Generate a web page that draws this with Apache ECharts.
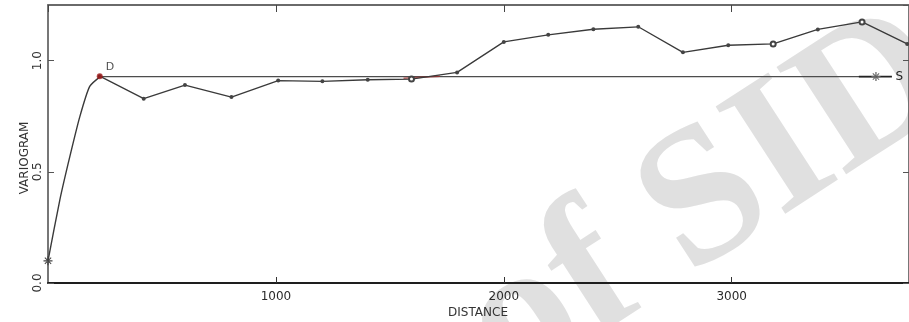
<!DOCTYPE html>
<html>
<head>
<meta charset="utf-8">
<script src="https://cdn.jsdelivr.net/npm/echarts@6/dist/echarts.min.js"></script>
<style>
  html, body { margin: 0; padding: 0; background: #fff; }
  #chart { width: 909px; height: 322px; }
</style>
</head>
<body>
<div id="chart"></div>
<script>
// Experimental variogram (lag distance, gamma)
const lagDistance = [227, 420, 601, 805, 1010, 1204, 1403, 1595, 1795, 2000, 2195, 2393, 2590, 2786, 2985, 3182, 3378, 3572, 3770];
const lagGamma    = [0.930, 0.829, 0.890, 0.836, 0.910, 0.907, 0.914, 0.917, 0.947, 1.084, 1.116, 1.141, 1.152, 1.037, 1.069, 1.075, 1.140, 1.174, 1.075];
// Lags drawn with an open ring instead of a dot
const openLags = [1595, 3182, 3572];

// Fitted model curve from the nugget up to the range
const modelDistance = [0, 52, 96, 140, 183, 229];
const modelGamma    = [0.100, 0.374, 0.569, 0.749, 0.884, 0.928];

// Sill line, from the range point D to the marker S
const sillDistance = [229, 3633];
const sillGamma    = [0.928, 0.928];

// Axis ticks
const xTicks = [0, 1000, 2000, 3000];
const yTicks = [0.0, 0.5, 1.0];

const pairs = (xs, ys) => xs.map((x, i) => [x, ys[i]]);

const asterisk = 'path://M-0.7,-5H0.7V5H-0.7Z M-5,-0.7H5V0.7H-5Z M-3.9,-3.1L-3.1,-3.9L3.9,3.1L3.1,3.9Z M-3.9,3.1L-3.1,3.9L3.9,-3.1L3.1,-3.9Z';

const chart = echarts.init(document.getElementById('chart'), null, { renderer: 'canvas' });

const xMax = 3778;
const yMax = 1.25;
const labelFont = '"DejaVu Sans", sans-serif';

const isOpen = d => openLags.indexOf(d) >= 0;

chart.setOption({
  animation: false,
  backgroundColor: '#ffffff',
  grid: { left: 48, right: -3, top: 5, bottom: 39 },
  xAxis: [
    {
      type: 'value', min: 0, max: xMax, interval: 1000, position: 'bottom',
      axisLine: { show: true, onZero: false, lineStyle: { color: '#1e1e1e', width: 2 } },
      axisTick: { show: true, inside: true, length: 6, lineStyle: { color: '#333', width: 1 } },
      axisLabel: {
        show: true, margin: 8, color: '#2a2a2a', fontSize: 12, fontFamily: labelFont,
        showMaxLabel: false, showMinLabel: false,
        formatter: v => (xTicks.indexOf(v) >= 0 ? String(v) : '')
      },
      splitLine: { show: false }
    },
    {
      type: 'value', min: 0, max: xMax, interval: 1000, position: 'top',
      axisLine: { show: true, onZero: false, lineStyle: { color: '#6a6a6a', width: 2 } },
      axisTick: { show: true, inside: true, length: 7, lineStyle: { color: '#444', width: 1 } },
      axisLabel: { show: false },
      splitLine: { show: false }
    }
  ],
  yAxis: [
    {
      type: 'value', min: 0, max: yMax, interval: 0.5, position: 'left',
      axisLine: { show: true, onZero: false, lineStyle: { color: '#4a4a4a', width: 1.5 } },
      axisTick: { show: true, inside: true, length: 6, lineStyle: { color: '#555', width: 1 } },
      axisLabel: {
        show: true, rotate: 90, margin: 4, color: '#333', fontSize: 12, fontFamily: labelFont,
        showMaxLabel: false,
        formatter: v => (yTicks.some(t => Math.abs(t - v) < 1e-9) ? v.toFixed(1) : '')
      },
      splitLine: { show: false }
    },
    {
      type: 'value', min: 0, max: yMax, interval: 0.5, position: 'right',
      axisLine: { show: true, onZero: false, lineStyle: { color: '#4a4a4a', width: 1.5 } },
      axisTick: { show: true, inside: true, length: 6, lineStyle: { color: '#555', width: 1 } },
      axisLabel: { show: false },
      splitLine: { show: false }
    }
  ],
  graphic: [
    {
      type: 'text', z: -10, silent: true,
      x: 934, y: 57, rotation: 33 * Math.PI / 180,
      style: {
        text: 'Archive of SID',
        font: 'bold 195px "Liberation Serif", serif',
        fill: '#e0e0e0',
        textAlign: 'right', textVerticalAlign: 'middle'
      }
    },
    {
      type: 'text', z: 10, x: 25, y: 158, rotation: Math.PI / 2,
      style: {
        text: 'VARIOGRAM', font: '12px ' + labelFont, fill: '#333',
        textAlign: 'center', textVerticalAlign: 'middle'
      }
    },
    {
      type: 'text', z: 10, x: 478, y: 313,
      style: {
        text: 'DISTANCE', font: '12px ' + labelFont, fill: '#333',
        textAlign: 'center', textVerticalAlign: 'middle'
      }
    }
  ],
  series: [
    {
      name: 'sill', type: 'line', z: 3, clip: true,
      data: pairs(sillDistance, sillGamma),
      showSymbol: false, symbol: 'none',
      lineStyle: { color: '#4d4d4d', width: 1.3 }
    },
    {
      name: 'sill marker', type: 'line', z: 4, clip: true,
      data: [[sillDistance[1] - 75, sillGamma[1]], [sillDistance[1], sillGamma[1]], [sillDistance[1] + 70, sillGamma[1]]],
      showAllSymbol: true,
      symbol: (v, p) => (p.dataIndex === 1 ? asterisk : 'none'),
      symbolSize: 9,
      itemStyle: { color: '#666' },
      lineStyle: { color: '#222', width: 1.8 },
      label: {
        show: true, position: 'right', distance: 15, color: '#222', fontSize: 12, fontFamily: labelFont,
        formatter: p => (p.dataIndex === 1 ? 'S' : '')
      }
    },
    {
      name: 'crossing', type: 'line', z: 4, clip: true,
      data: [[1560, 0.921], [1720, 0.930]],
      showSymbol: false, symbol: 'none',
      lineStyle: { color: 'rgba(165,45,45,0.75)', width: 1.5 }
    },
    {
      name: 'model', type: 'line', z: 5, clip: true,
      data: pairs(modelDistance, modelGamma),
      smooth: 0.2,
      symbol: (v, p) => (p.dataIndex === 0 ? asterisk : 'none'),
      symbolSize: 9,
      itemStyle: { color: '#444' },
      lineStyle: { color: '#3a3a3a', width: 1.4 }
    },
    {
      name: 'experimental', type: 'line', z: 6, clip: true,
      data: pairs(lagDistance, lagGamma),
      showAllSymbol: true,
      symbol: v => (isOpen(v[0]) ? 'emptyCircle' : 'circle'),
      symbolSize: v => (isOpen(v[0]) ? 5 : 4),
      itemStyle: { color: '#444', borderWidth: 1 },
      lineStyle: { color: '#3a3a3a', width: 1.3 }
    },
    {
      name: 'range', type: 'scatter', z: 7, clip: true,
      data: [[lagDistance[0], lagGamma[0]]],
      symbol: 'circle', symbolSize: 6,
      itemStyle: { color: '#a01818' },
      label: {
        show: true, position: [9, -12], color: '#1e1e1e', fontSize: 11, fontFamily: labelFont,
        formatter: 'D'
      }
    }
  ]
});
</script>
</body>
</html>
